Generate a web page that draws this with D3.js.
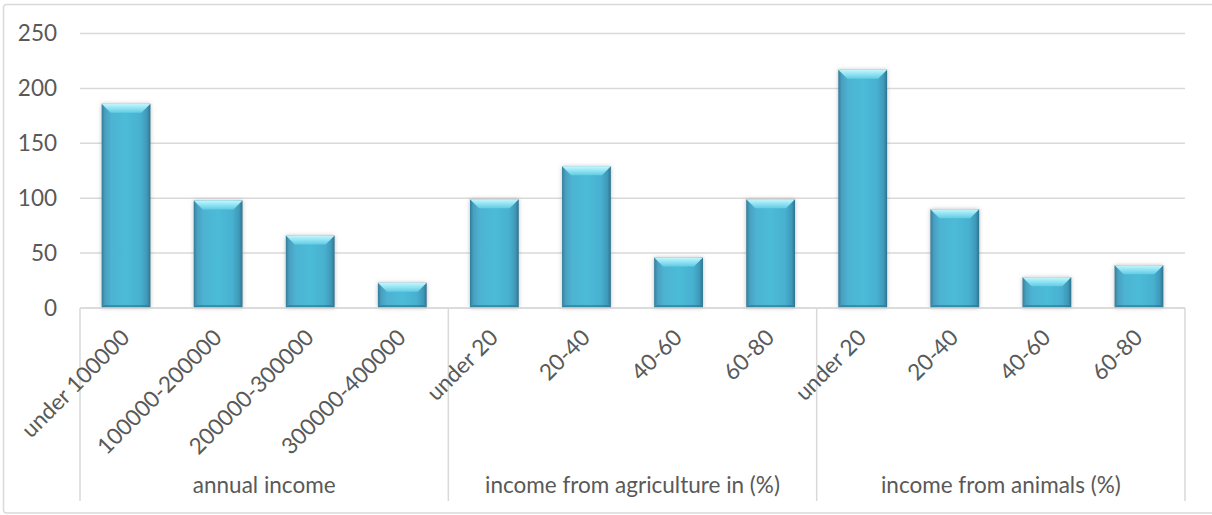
<!DOCTYPE html>
<html>
<head>
<meta charset="utf-8">
<script src="https://cdn.jsdelivr.net/npm/d3@7"></script>
<style>
  html, body { margin: 0; padding: 0; background: #fff; }
  svg { display: block; font-family: Lato, "Open Sans", sans-serif; }
</style>
</head>
<body>
<svg id="chart" width="1212" height="515"></svg>
<script>
// Category groups and their sub-categories (multi-level axis)
const groups = ["annual income", "income from agriculture in (%)", "income from animals (%)"];
const subCategories = [
  ["under 100000", "100000-200000", "200000-300000", "300000-400000"],
  ["under 20", "20-40", "40-60", "60-80"],
  ["under 20", "20-40", "40-60", "60-80"]
];
const counts = [
  [186, 98, 66, 23],
  [99, 129, 46, 99],
  [217, 90, 28, 39]
];
const yTicks = [0, 50, 100, 150, 200, 250];

// Flattened rows for the bar scale
const rows = [];
groups.forEach((g, gi) => {
  subCategories[gi].forEach((c, ci) => {
    rows.push({ key: gi + "|" + ci, group: g, gi, label: c, value: counts[gi][ci] });
  });
});

const svg = d3.select("#chart");
const plotLeft = 80, plotRight = 1185, plotTop = 33.5, plotBase = 308;
const fontSize = 22.5, textColor = "#595959", lineColor = "#d9d9d9";

const x = d3.scaleBand().domain(rows.map(d => d.key)).range([plotLeft, plotRight])
  .paddingInner(0.47).paddingOuter(0.235);
const y = d3.scaleLinear().domain([0, 250]).range([plotBase, plotTop]);

const defs = svg.append("defs");
const body = defs.append("linearGradient").attr("id", "barBody").attr("x1", 0).attr("x2", 1).attr("y1", 0).attr("y2", 0);
[[0, "#2f7e9b"], [0.07, "#4a9fc0"], [0.2, "#4db3d2"], [0.5, "#4cbcd8"], [0.8, "#47b0d0"], [0.93, "#3f98b8"], [1, "#2b738f"]]
  .forEach(([o, c]) => body.append("stop").attr("offset", o).attr("stop-color", c));
const bevel = defs.append("linearGradient").attr("id", "barBevel").attr("x1", 0).attr("x2", 0).attr("y1", 0).attr("y2", 1);
[[0, "#c8f5fc"], [0.45, "#95e6f4"], [1, "#62cbe4"]]
  .forEach(([o, c]) => bevel.append("stop").attr("offset", o).attr("stop-color", c));
const shadow = defs.append("filter").attr("id", "barShadow").attr("x", "-30%").attr("y", "-30%").attr("width", "160%").attr("height", "160%");
shadow.append("feDropShadow").attr("dx", 0).attr("dy", 0).attr("stdDeviation", 2.2)
  .attr("flood-color", "#8c8c8c").attr("flood-opacity", 0.55);

// Chart frame
svg.append("rect").attr("x", 3.5).attr("y", 4.5).attr("width", 1215).attr("height", 508.5)
  .attr("rx", 3).attr("fill", "none").attr("stroke", lineColor).attr("stroke-width", 1.5);

// Gridlines and value axis labels
const yAxis = svg.append("g");
yAxis.selectAll("line").data(yTicks).join("line")
  .attr("x1", plotLeft).attr("x2", plotRight)
  .attr("y1", d => y(d)).attr("y2", d => y(d))
  .attr("stroke", lineColor).attr("stroke-width", 1.5);
yAxis.selectAll("text").data(yTicks).join("text")
  .attr("x", 57).attr("y", d => y(d)).attr("dy", "0.35em")
  .attr("text-anchor", "end").attr("font-size", fontSize).attr("fill", textColor)
  .text(d => d);

// Bars with a bevelled top edge
const bars = svg.append("g").selectAll("g").data(rows).join("g")
  .attr("transform", d => `translate(${x(d.key)},${y(d.value)})`);
bars.append("rect")
  .attr("width", x.bandwidth()).attr("height", d => plotBase - y(d.value))
  .attr("fill", "url(#barBody)").attr("filter", "url(#barShadow)");
const bw = x.bandwidth(), bv = 9;
bars.append("path")
  .attr("d", `M0,0 L${bw},0 L${bw - bv},${bv} L${bv},${bv} Z`)
  .attr("fill", "url(#barBevel)");
bars.append("path")
  .attr("d", d => { const h = plotBase - y(d.value); return `M0,${h} L${bw},${h} L${bw - 3},${h - 3} L3,${h - 3} Z`; })
  .attr("fill", "#2a7590").attr("opacity", 0.6);

// Category axis baseline
svg.append("line").attr("x1", plotLeft).attr("x2", plotRight).attr("y1", plotBase).attr("y2", plotBase)
  .attr("stroke", lineColor).attr("stroke-width", 1.5);

// Group separators
const groupEdges = groups.map((g, gi) => x(gi + "|0") - x.step() * x.paddingInner() / 2);
groupEdges.push(plotRight);
svg.append("g").selectAll("line").data(groupEdges).join("line")
  .attr("x1", d => d).attr("x2", d => d).attr("y1", plotBase).attr("y2", 501)
  .attr("stroke", lineColor).attr("stroke-width", 1.5);

// Rotated sub-category labels
svg.append("g").selectAll("text").data(rows).join("text")
  .attr("transform", d => `translate(${x(d.key) + x.bandwidth() / 2 + 5},${plotBase + 31}) rotate(-45)`)
  .attr("text-anchor", "end").attr("font-size", fontSize).attr("fill", textColor)
  .text(d => d.label);

// Group labels
svg.append("g").selectAll("text").data(groups).join("text")
  .attr("x", (g, i) => (groupEdges[i] + groupEdges[i + 1]) / 2).attr("y", 493)
  .attr("text-anchor", "middle").attr("font-size", fontSize).attr("fill", textColor)
  .text(d => d);
</script>
</body>
</html>
